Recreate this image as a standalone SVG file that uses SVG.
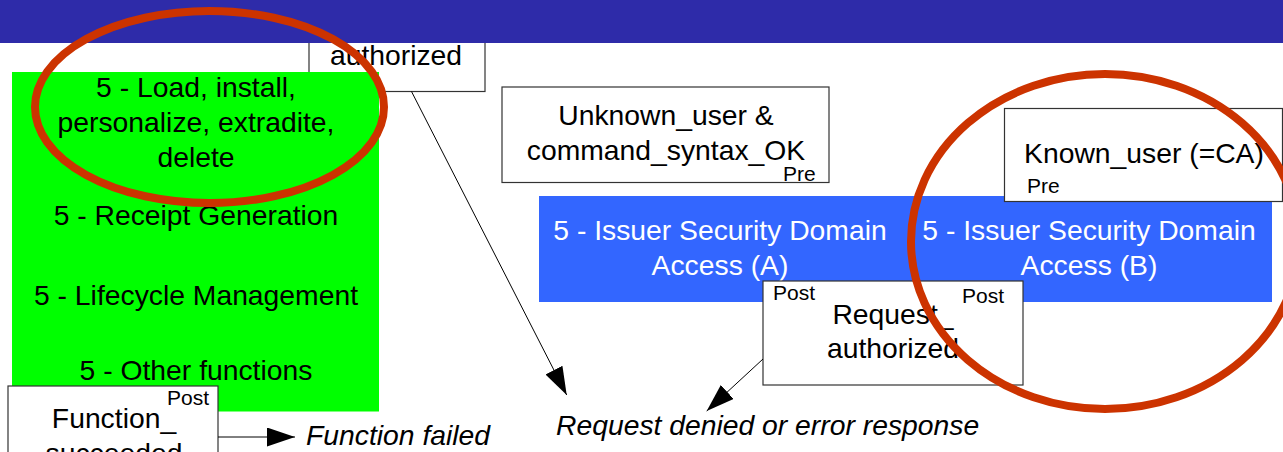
<svg xmlns="http://www.w3.org/2000/svg" width="1283" height="452" viewBox="0 0 1283 452">
  <style>
    text { font-family: "Liberation Sans", Arial, sans-serif; }
    .lbl { font-size: 28.3px; fill: #000; text-anchor: middle; }
    .wlbl { font-size: 28.3px; fill: #fff; text-anchor: middle; }
    .tag { font-size: 21px; fill: #000; }
    .note { font-size: 28.3px; font-style: italic; fill: #000; }
    .cond { fill: #fff; stroke: #333; stroke-width: 1.2; }
    .conn { stroke: #000; stroke-width: 1; fill: none; marker-end: url(#head); }
    .mark { fill: none; stroke: #cc3300; stroke-width: 8; }
  </style>
  <defs>
    <marker id="head" viewBox="0 0 28 19" refX="28" refY="9.5" markerWidth="28" markerHeight="19" markerUnits="userSpaceOnUse" orient="auto">
      <path d="M0,0 L28,9.5 L0,19 Z" fill="#000"/>
    </marker>
  </defs>

  <rect width="1283" height="452" fill="#fff"/>

  <!-- pre-condition box partly under the title band -->
  <g id="pre-authorized">
    <rect class="cond" x="309" y="20" width="176" height="71.5"/>
    <text class="lbl" x="396" y="65">authorized</text>
    <text class="tag" x="325" y="86">Pre</text>
  </g>

  <!-- title band -->
  <rect id="title-band" x="0" y="0" width="1283" height="43" fill="#2e2ba9"/>

  <!-- card functions block -->
  <g id="functions">
    <rect x="12" y="72" width="367" height="339.5" fill="#00ff00"/>
    <text class="lbl" x="196" y="97">5 - Load, install,</text>
    <text class="lbl" x="196" y="132">personalize, extradite,</text>
    <text class="lbl" x="196" y="167">delete</text>
    <text class="lbl" x="196" y="225">5 - Receipt Generation</text>
    <text class="lbl" x="196" y="305">5 - Lifecycle Management</text>
    <text class="lbl" x="196" y="380">5 - Other functions</text>
  </g>

  <g id="post-function">
    <rect class="cond" x="8" y="386" width="210" height="90"/>
    <text class="tag" x="209" y="405" text-anchor="end">Post</text>
    <text class="lbl" x="114" y="428">Function_</text>
    <text class="lbl" x="114" y="463">succeeded</text>
  </g>

  <g id="pre-unknown">
    <rect class="cond" x="502" y="87" width="327" height="95.5"/>
    <text class="lbl" x="666" y="125">Unknown_user &amp;</text>
    <text class="lbl" x="666" y="160">command_syntax_OK</text>
    <text class="tag" x="783" y="181">Pre</text>
  </g>

  <g id="isd-access">
    <rect x="539" y="196" width="733" height="106" fill="#3366ff"/>
    <text class="wlbl" x="720" y="240">5 - Issuer Security Domain</text>
    <text class="wlbl" x="720" y="275">Access (A)</text>
    <text class="wlbl" x="1089" y="240">5 - Issuer Security Domain</text>
    <text class="wlbl" x="1089" y="275">Access (B)</text>
  </g>

  <g id="pre-known">
    <rect class="cond" x="1004.5" y="108.5" width="278" height="93"/>
    <text class="lbl" x="1144" y="163">Known_user (=CA)</text>
    <text class="tag" x="1027" y="193">Pre</text>
  </g>

  <g id="post-request">
    <rect class="cond" x="763" y="281" width="260" height="104"/>
    <text class="tag" x="773" y="300">Post</text>
    <text class="tag" x="962" y="303">Post</text>
    <text class="lbl" x="893" y="324">Request_</text>
    <text class="lbl" x="893" y="358">authorized</text>
  </g>

  <g id="outcomes">
    <text class="note" x="306" y="445">Function failed</text>
    <text class="note" x="556" y="435">Request denied or error response</text>
  </g>

  <g id="connectors">
    <line class="conn" x1="218" y1="437" x2="295" y2="437"/>
    <line class="conn" x1="411.5" y1="91.5" x2="566.7" y2="395"/>
    <line class="conn" x1="763" y1="359" x2="706.7" y2="411"/>
  </g>

  <!-- hand-drawn highlight rings -->
  <g id="highlights">
    <ellipse class="mark" cx="209.5" cy="107" rx="174.5" ry="96"/>
    <ellipse class="mark" cx="1105" cy="241.5" rx="194" ry="167.5"/>
  </g>
</svg>
